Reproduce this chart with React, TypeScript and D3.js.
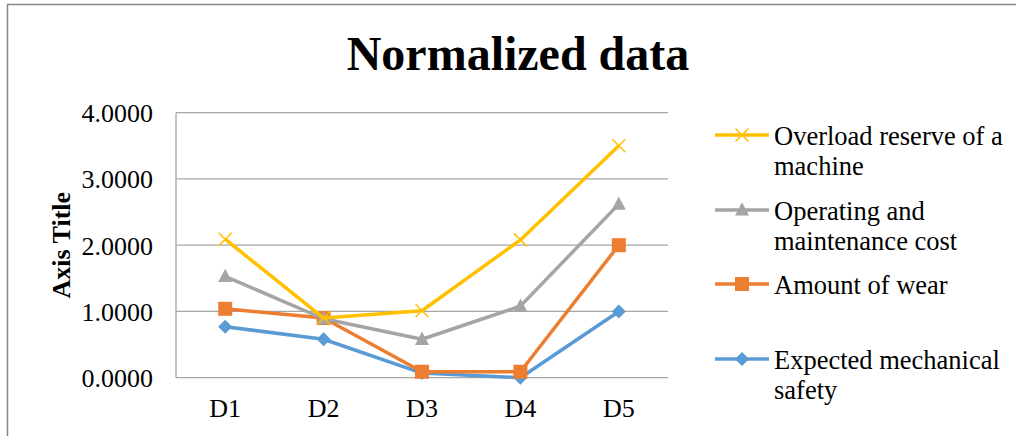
import React from "react";
import * as d3 from "d3";

const categories = ["D1", "D2", "D3", "D4", "D5"];
const seriesNames = [
  "Overload reserve of a machine",
  "Operating and maintenance cost",
  "Amount of wear",
  "Expected mechanical safety",
];
const overload = [2.09, 0.9, 1.01, 2.08, 3.5];
const operating = [1.53, 0.89, 0.58, 1.08, 2.62];
const wear = [1.04, 0.9, 0.09, 0.09, 2.0];
const safety = [0.77, 0.58, 0.07, 0.0, 1.0];
const yTicks = [0, 1, 2, 3, 4];
const legendLines = [
  ["Overload reserve of a", "machine"],
  ["Operating and", "maintenance cost"],
  ["Amount of wear"],
  ["Expected mechanical", "safety"],
];

const colors = ["#FFC000", "#A5A5A5", "#ED7D31", "#5B9BD5"];
const markers = ["x", "triangle", "square", "diamond"];

const W = 1016;
const H = 436;
const plot = { left: 176, right: 668, top: 112.7, bottom: 377.7 };

function Marker({ kind, x, y, color, s }: { kind: string; x: number; y: number; color: string; s: number }) {
  const h = s / 2;
  if (kind === "x") {
    return (
      <path
        d={`M${x - h},${y - h}L${x + h},${y + h}M${x - h},${y + h}L${x + h},${y - h}`}
        stroke={color}
        strokeWidth={1.5}
        fill="none"
      />
    );
  }
  if (kind === "triangle") {
    return <path d={`M${x},${y - h * 1.1}L${x + h},${y + h * 0.8}L${x - h},${y + h * 0.8}Z`} fill={color} />;
  }
  if (kind === "square") {
    return <rect x={x - h} y={y - h} width={s} height={s} fill={color} />;
  }
  return <path d={`M${x},${y - h}L${x + h},${y}L${x},${y + h}L${x - h},${y}Z`} fill={color} />;
}

export default function App() {
  const x = d3.scaleBand<string>().domain(categories).range([plot.left, plot.right]);
  const y = d3.scaleLinear().domain([0, 4]).range([plot.bottom, plot.top]);
  const data = [overload, operating, wear, safety];
  const cx = (c: string) => (x(c) as number) + x.bandwidth() / 2;
  const line = d3
    .line<number>()
    .x((_, i) => cx(categories[i]))
    .y((d) => y(d));

  const drawOrder = [3, 2, 1, 0];
  const legendY = [135, 210, 284, 359];
  const font = "'Liberation Serif', 'Times New Roman', serif";

  return (
    <svg width={W} height={H} style={{ position: "absolute", left: 0, top: 0, background: "#fff" }} fontFamily={font}>
      <rect x={0} y={0} width={W} height={H} fill="#fff" />
      <path d={`M7.5,${H}V4.5H${W}`} stroke="#868686" strokeWidth={1.5} fill="none" />
      <text x={518} y={70} textAnchor="middle" fontSize={48} fontWeight="bold">
        Normalized data
      </text>
      {yTicks.map((t) => (
        <g key={t}>
          <line x1={plot.left} x2={plot.right} y1={y(t)} y2={y(t)} stroke="#a6a6a6" strokeWidth={1.3} />
          <text x={153} y={y(t) + 9.5} textAnchor="end" fontSize={26}>
            {d3.format(".4f")(t)}
          </text>
        </g>
      ))}
      <line x1={plot.left} x2={plot.left} y1={plot.top} y2={plot.bottom} stroke="#a6a6a6" strokeWidth={1.3} />
      {categories.map((c) => (
        <text key={c} x={cx(c)} y={417} textAnchor="middle" fontSize={26}>
          {c}
        </text>
      ))}
      <text
        transform={`translate(70,${(plot.top + plot.bottom) / 2}) rotate(-90)`}
        textAnchor="middle"
        fontSize={26}
        fontWeight="bold"
      >
        Axis Title
      </text>
      {drawOrder.map((si) => (
        <g key={si}>
          <path d={line(data[si]) as string} stroke={colors[si]} strokeWidth={3.5} fill="none" strokeLinejoin="round" />
          {data[si].map((v, i) => (
            <Marker key={i} kind={markers[si]} x={cx(categories[i])} y={y(v)} color={colors[si]} s={markers[si] === "x" ? 13 : 14} />
          ))}
        </g>
      ))}
      {seriesNames.map((name, si) => (
        <g key={name}>
          <line x1={715} x2={769} y1={legendY[si]} y2={legendY[si]} stroke={colors[si]} strokeWidth={3.5} />
          <Marker kind={markers[si]} x={742} y={legendY[si]} color={colors[si]} s={markers[si] === "x" ? 13 : 14} />
          {legendLines[si].map((ln, li) => (
            <text key={li} x={774} y={legendY[si] + 9.5 + li * 30} fontSize={26.5}>
              {ln}
            </text>
          ))}
        </g>
      ))}
    </svg>
  );
}
